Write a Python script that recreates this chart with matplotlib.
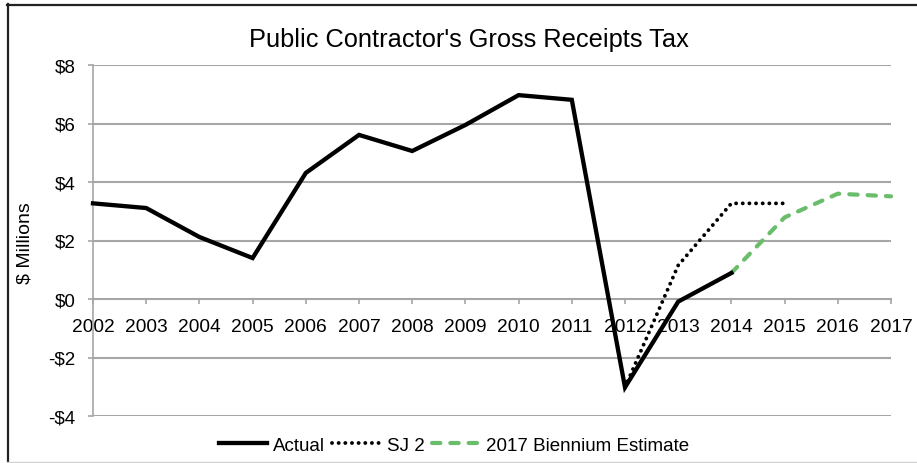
import matplotlib
matplotlib.use("Agg")
import matplotlib.pyplot as plt
from matplotlib.lines import Line2D

plt.rcParams['font.family'] = ['Liberation Sans', 'DejaVu Sans']

years = list(range(2002, 2018))
actual_years = list(range(2002, 2015))
actual = [3.27, 3.11, 2.12, 1.40, 4.31, 5.61, 5.06, 5.95, 6.97, 6.81, -3.02, -0.09, 0.89]
sj2_years = [2012, 2013, 2014, 2015]
sj2 = [-3.02, 1.15, 3.27, 3.27]
est_years = [2014, 2015, 2016, 2017]
est = [0.89, 2.79, 3.60, 3.51]
y_ticks = [-4, -2, 0, 2, 4, 6, 8]
y_labels = ["-$4", "-$2", "$0", "$2", "$4", "$6", "$8"]

W, H = 917, 464
fig = plt.figure(figsize=(W / 100, H / 100), dpi=100)
ax = fig.add_axes([93 / W, 1 - 417 / H, (891 - 93) / W, (417 - 66) / H])

grid_c = "#a6a6a6"
ax.set_xlim(2002, 2017)
ax.set_ylim(-4, 8)
ax.set_yticks(y_ticks)
ax.set_yticklabels(y_labels)
ax.set_xticks(years)
ax.set_xticklabels([str(y) for y in years])
for y in y_ticks:
    if y != 0:
        ax.axhline(y, color=grid_c, lw=1.5, zorder=1)

for s in ["top", "right"]:
    ax.spines[s].set_visible(False)
ax.spines["bottom"].set_position(("data", 0))
ax.spines["bottom"].set_color(grid_c)
ax.spines["bottom"].set_linewidth(1.5)
ax.spines["left"].set_color(grid_c)
ax.spines["left"].set_linewidth(1.2)
ax.tick_params(axis="x", colors=grid_c, labelcolor="black", length=3.6, width=1.2,
               direction="out", pad=10, labelsize=13.8)
ax.tick_params(axis="y", colors=grid_c, labelcolor="black", length=3.6, width=1.2,
               pad=9, labelsize=13.5)

ax.plot(actual_years, actual, color="black", lw=3.1, solid_joinstyle="miter",
        label="Actual", zorder=4, clip_on=False)
ax.plot(sj2_years, sj2, color="black", lw=2.8, linestyle=(0, (0.01, 1.7)),
        dash_capstyle="round", label="SJ 2", zorder=3, clip_on=False)
ax.plot(est_years, est, color="#6abd6b", lw=3, linestyle=(0, (2.0, 2.4)),
        dash_capstyle="round", label="2017 Biennium Estimate", zorder=3, clip_on=False)

fig.text(469 / W, 1 - 40 / H, "Public Contractor's Gross Receipts Tax",
         ha="center", va="center", fontsize=18.3)
fig.text(25 / W, 1 - 243 / H, "$ Millions", rotation=90, ha="center", va="center",
         fontsize=14)

handles, labels = ax.get_legend_handles_labels()
fig.legend(handles, labels, loc="center", bbox_to_anchor=(454 / W, 1 - 446 / H),
           ncol=3, frameon=False, fontsize=13.5, handlelength=2.6,
           handletextpad=0.3, columnspacing=0.4, borderpad=0)

# chart frame
fig.add_artist(Line2D([7.5 / W, 7.5 / W], [1 - 5 / H, 0], transform=fig.transFigure,
                      color="#222222", lw=1.6))
fig.add_artist(Line2D([7 / W, 1], [1 - 5.5 / H, 1 - 5.5 / H], transform=fig.transFigure,
                      color="#222222", lw=1.6))
fig.add_artist(Line2D([7 / W, 1], [1 - 463 / H, 1 - 463 / H], transform=fig.transFigure,
                      color="#d0d0d0", lw=1.0))

fig.savefig("out.png", dpi=100)
